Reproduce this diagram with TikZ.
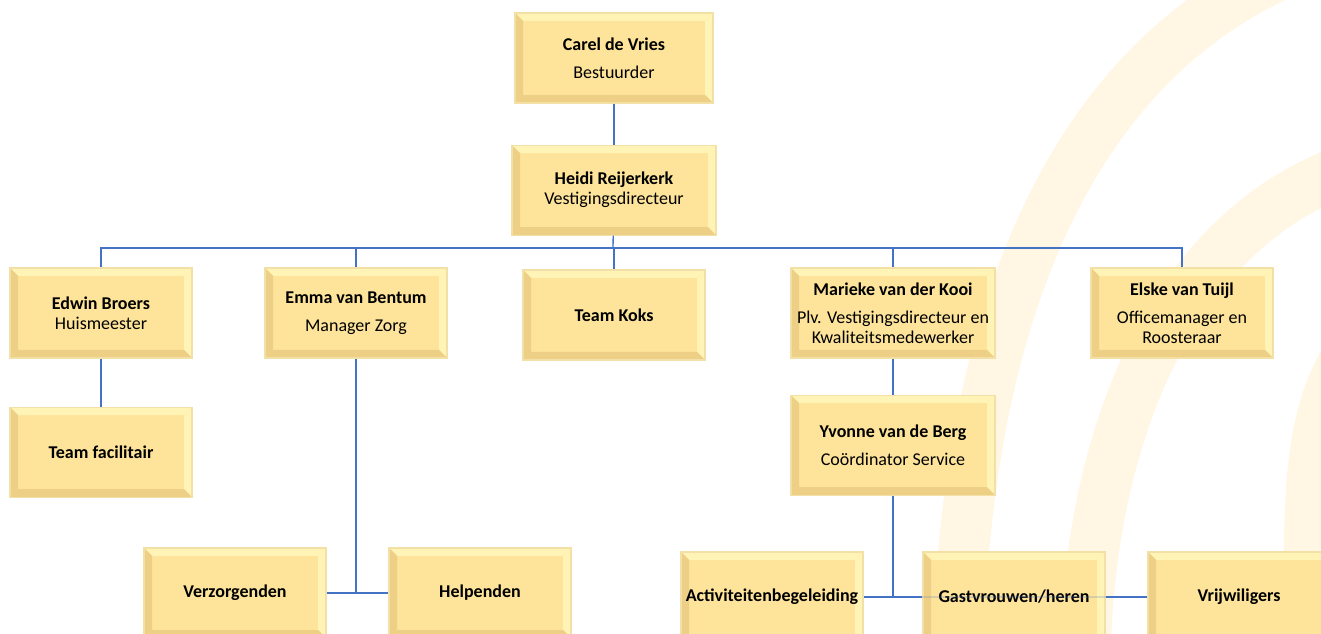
\documentclass[tikz,border=0pt]{standalone}
\usepackage{fontspec}
\setmainfont{Carlito}
\usepackage{tikz}
\usetikzlibrary{shapes,arrows,positioning}
\definecolor{boxfill}{HTML}{FDE49A}
\definecolor{boxedge}{HTML}{F2E0A6}
\definecolor{bevlight}{HTML}{FFF3B6}
\definecolor{bevdark}{HTML}{EDCF86}
\definecolor{lijn}{HTML}{4472C4}
\definecolor{watermerk}{HTML}{FFF7E4}
\tikzstyle{box} = [rectangle, draw=boxedge, fill=boxfill, line width=0.8pt,
  minimum width=136.5pt, minimum height=67.5pt, inner sep=1pt, align=center,
  font=\fontsize{13.5}{15}\selectfont,
  path picture={
    \fill[bevlight] (path picture bounding box.north west) -- (path picture bounding box.north east)
      -- ([shift={(-6pt,-6pt)}]path picture bounding box.north east) -- ([shift={(6pt,-6pt)}]path picture bounding box.north west) -- cycle;
    \fill[bevlight] (path picture bounding box.north east) -- (path picture bounding box.south east)
      -- ([shift={(-6pt,6pt)}]path picture bounding box.south east) -- ([shift={(-6pt,-6pt)}]path picture bounding box.north east) -- cycle;
    \fill[bevdark] (path picture bounding box.north west) -- (path picture bounding box.south west)
      -- ([shift={(6pt,6pt)}]path picture bounding box.south west) -- ([shift={(6pt,-6pt)}]path picture bounding box.north west) -- cycle;
    \fill[bevdark] (path picture bounding box.south west) -- (path picture bounding box.south east)
      -- ([shift={(-6pt,6pt)}]path picture bounding box.south east) -- ([shift={(6pt,6pt)}]path picture bounding box.south west) -- cycle;
  }]
\tikzstyle{wide} = [minimum width=153pt]
\tikzstyle{conn} = [draw=lijn, line width=1pt]
\tikzstyle{wm} = [draw=watermerk, line width=38pt]

\begin{document}
\begin{tikzpicture}[x=0.75pt, y=-0.75pt, >=stealth]
    \clip (0,0) rectangle (1321,634);
    \fill[white] (0,0) rectangle (1321,634);

    % achtergrond
    \draw[wm] (958,660) .. controls (965,300) and (1080,60) .. (1290,-30);
    \draw[wm] (1085,660) .. controls (1090,420) and (1180,230) .. (1345,170);
    \draw[wm] (1312,660) .. controls (1305,500) and (1310,420) .. (1345,360);

    % bestuur
    \node[box, minimum width=148.5pt] (carel) at (614,58) {\textbf{Carel de Vries}\\[6pt]Bestuurder};
    \node[box, wide, below=30.75pt of carel] (heidi) {\textbf{Heidi Reijerkerk}\\Vestigingsdirecteur};

    % tweede laag
    \node[box] (edwin) at (101,313) {\textbf{Edwin Broers}\\Huismeester};
    \node[box] (emma) at (356,313) {\textbf{Emma van Bentum}\\[6pt]Manager Zorg};
    \node[box] (koks) at (614,315) {\textbf{Team Koks}};
    \node[box, wide] (marieke) at (893,313) {\textbf{Marieke van der Kooi}\\[6pt]Plv. Vestigingsdirecteur en\\Kwaliteitsmedewerker};
    \node[box] (elske) at (1182,313) {\textbf{Elske van Tuijl}\\[6pt]Officemanager en\\Roosteraar};

    % derde laag
    \node[box, below=36pt of edwin] (facilitair) {\textbf{Team facilitair}};
    \node[box, wide, minimum height=75pt, below=27pt of marieke] (yvonne) {\textbf{Yvonne van de Berg}\\[6pt]Coördinator Service};

    % onderste laag
    \node[box] (verz) at (235,593) {\textbf{Verzorgenden}};
    \node[box] (help) at (480,593) {\textbf{Helpenden}};
    \node[box] (activ) at (772,597) {\textbf{Activiteitenbegeleiding}};
    \node[box] (gast) at (1014,597) {\textbf{Gastvrouwen/heren}};
    \node[box] (vrij) at (1239,597) {\textbf{Vrijwiligers}};

    % verbindingen
    \coordinate (bus) at (613,248);
    \draw[conn] (carel) -- (heidi);
    \draw[conn] (heidi) -- (bus);
    \foreach \n in {edwin,emma,koks,marieke,elske}
        \draw[conn] (\n.north) |- (bus);
    \draw[conn] (edwin) -- (facilitair);
    \draw[conn] (marieke) -- (yvonne);
    \draw[conn, line width=1.5pt] (emma.south) |- (verz.east);
    \draw[conn, line width=1.5pt] (emma.south) |- (help.west);
    \draw[conn, line width=1.5pt] (yvonne.south) |- (activ.east);
    \draw[conn, line width=1.5pt] (yvonne.south) |- (gast.west);
    \draw[conn, opacity=0.2] (gast.west) -- (gast.east);
    \draw[conn] (gast.east) -- (vrij.west);
\end{tikzpicture}
\end{document}
